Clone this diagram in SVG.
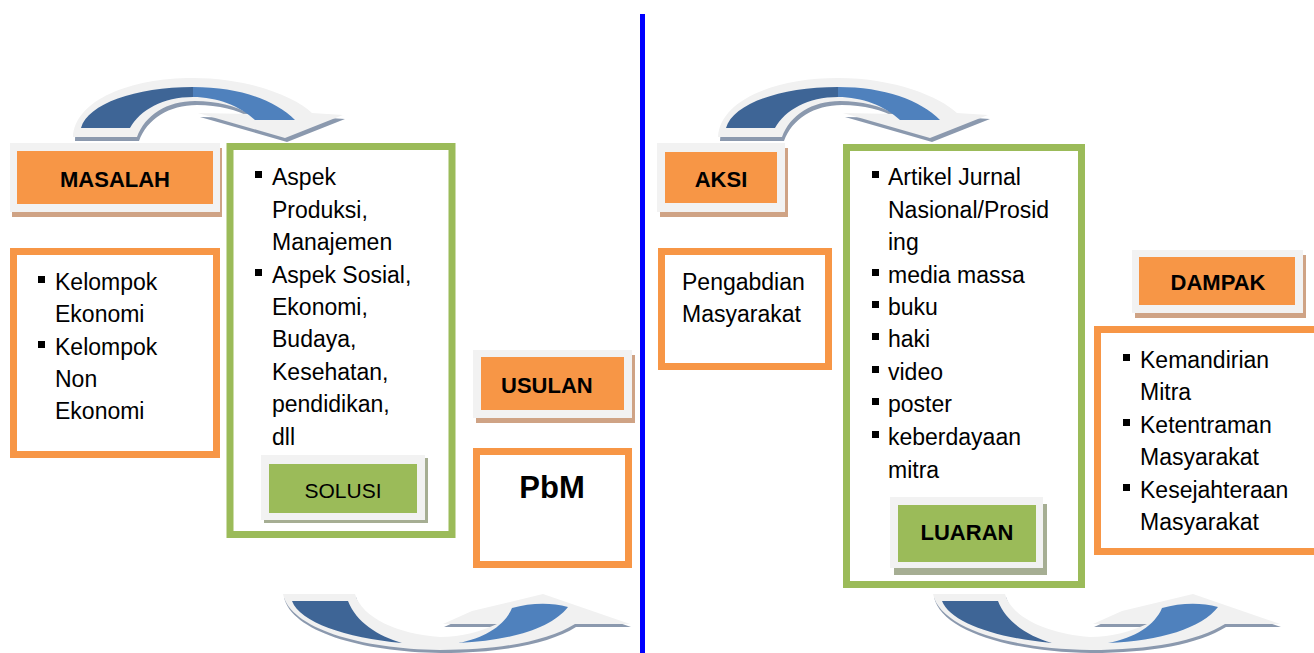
<svg xmlns="http://www.w3.org/2000/svg" xmlns:xlink="http://www.w3.org/1999/xlink" width="1314" height="653" viewBox="0 0 1314 653">
<style>
.t{font-family:"Liberation Sans",Arial,sans-serif;font-size:23px;fill:#000}
.lb{font-family:"Liberation Sans",Arial,sans-serif;font-size:22px;font-weight:bold;fill:#000;text-anchor:middle}
.lr{font-family:"Liberation Sans",Arial,sans-serif;font-size:21px;fill:#000;text-anchor:middle}
.ob{fill:#fff;stroke:#F79646;stroke-width:7}
.gb{fill:#fff;stroke:#9BBB59;stroke-width:7}
.pad{fill:#F2F2F2}
.sho{fill:#CFA385}
.shg{fill:#A6AE93}
.or{fill:#F79646}
.gr{fill:#9BBB59}
.ash{fill:#8B99AE}
.agr{fill:#F1F1F1}
.dk{fill:#3E6596}
.lt{fill:#4F81BD}
.bul{fill:#000}
</style>
<defs>
<g id="arrowTop">
<path class="ash" transform="translate(2,4)" d="M718,137 C720,100 775,78 838,78 C895,78 940,97 957,113 L988,115 L930,138 L843,113 L895,114 C880,106 862,101 840,101 C812,101 790,115 782,137 Z"/>
<path class="agr" d="M718,137 C720,100 775,78 838,78 C895,78 940,97 957,113 L988,115 L930,138 L843,113 L895,114 C880,106 862,101 840,101 C812,101 790,115 782,137 Z"/>
<path class="dk" d="M726,128 C733,104 780,87 838,87 L838,97 C808,97 785,110 775,128 Z"/>
<path class="lt" d="M838,87 C885,87 920,100 940,120 L900,120 C885,106 862,97 838,97 Z"/>
</g>
<g id="arrowBottom">
<path class="ash" transform="translate(1,3)" d="M283,594 L355,594 C362,618 398,634 440,637 C462,637 482,631 497,624 L443,624 L472,611 L543,594 L630,624 L575,624 C548,641 500,650 440,650 C360,649 290,628 283,594 Z"/>
<path class="agr" d="M283,594 L355,594 C362,618 398,634 440,637 C462,637 482,631 497,624 L443,624 L472,611 L543,594 L630,624 L575,624 C548,641 500,650 440,650 C360,649 290,628 283,594 Z"/>
<path class="dk" d="M292,601 L348,601 C356,622 378,636 402,643 C345,638 300,622 292,601 Z"/>
<path class="lt" d="M458,643 C485,638 505,625 512,608 C530,603 550,602 568,607 C552,628 510,641 458,643 Z"/>
</g>
</defs>

<rect id="divider" x="640" y="14" width="5" height="639" fill="#0000FF"/>

<g id="connectors">
<use xlink:href="#arrowTop" transform="translate(-645,0)"/>
<use xlink:href="#arrowTop"/>
<use xlink:href="#arrowBottom"/>
<use xlink:href="#arrowBottom" transform="translate(650,0)"/>
</g>

<g id="masalah">
<rect class="sho" x="12" y="148" width="210" height="69"/>
<rect class="pad" x="10" y="143" width="210" height="69"/>
<rect class="or" x="17" y="151" width="196" height="53"/>
<text class="lb" x="115" y="187">MASALAH</text>
</g>

<g id="kelompok">
<rect class="ob" x="13.5" y="251.5" width="203" height="203"/>
<rect class="bul" x="38" y="276" width="7" height="7"/>
<rect class="bul" x="38" y="341" width="7" height="7"/>
<text class="t"><tspan x="55" y="290">Kelompok</tspan><tspan x="55" y="322">Ekonomi</tspan><tspan x="55" y="355">Kelompok</tspan><tspan x="55" y="387">Non</tspan><tspan x="55" y="419">Ekonomi</tspan></text>
</g>

<g id="solusi-box">
<rect class="gb" x="230" y="146.5" width="222" height="388"/>
<rect class="bul" x="255" y="171" width="7" height="7"/>
<rect class="bul" x="255" y="269" width="7" height="7"/>
<text class="t"><tspan x="272" y="185">Aspek</tspan><tspan x="272" y="218">Produksi,</tspan><tspan x="272" y="250">Manajemen</tspan><tspan x="272" y="283">Aspek Sosial,</tspan><tspan x="272" y="315">Ekonomi,</tspan><tspan x="272" y="347">Budaya,</tspan><tspan x="272" y="380">Kesehatan,</tspan><tspan x="272" y="412">pendidikan,</tspan><tspan x="272" y="445">dll</tspan></text>
</g>

<g id="solusi">
<rect class="shg" x="264" y="458" width="164" height="65"/>
<rect class="pad" x="261" y="455" width="164" height="65"/>
<rect class="gr" x="269" y="464" width="148" height="49"/>
<text class="lr" x="343" y="498">SOLUSI</text>
</g>

<g id="usulan">
<rect class="sho" x="476" y="355" width="159" height="68"/>
<rect class="pad" x="473" y="350" width="159" height="68"/>
<rect class="or" x="481" y="357" width="143" height="53"/>
<text class="lb" x="501" y="393" style="text-anchor:start">USULAN</text>
</g>

<g id="pbm">
<rect class="ob" x="476.5" y="451.5" width="152" height="113"/>
<text class="lb" x="552" y="498" style="font-size:31px">PbM</text>
</g>

<g id="aksi">
<rect class="sho" x="660" y="148" width="128" height="69"/>
<rect class="pad" x="657" y="143" width="128" height="69"/>
<rect class="or" x="665" y="152" width="112" height="51"/>
<text class="lb" x="721" y="187">AKSI</text>
</g>

<g id="pengabdian">
<rect class="ob" x="661.5" y="251.5" width="167" height="115"/>
<text class="t"><tspan x="682" y="290">Pengabdian</tspan><tspan x="682" y="322">Masyarakat</tspan></text>
</g>

<g id="luaran-box">
<rect class="gb" x="846.5" y="147.5" width="235" height="437"/>
<rect class="bul" x="872" y="171" width="7" height="7"/>
<rect class="bul" x="872" y="269" width="7" height="7"/>
<rect class="bul" x="872" y="301" width="7" height="7"/>
<rect class="bul" x="872" y="333" width="7" height="7"/>
<rect class="bul" x="872" y="366" width="7" height="7"/>
<rect class="bul" x="872" y="398" width="7" height="7"/>
<rect class="bul" x="872" y="431" width="7" height="7"/>
<text class="t"><tspan x="888" y="185">Artikel Jurnal</tspan><tspan x="888" y="218">Nasional/Prosid</tspan><tspan x="888" y="250">ing</tspan><tspan x="888" y="283">media massa</tspan><tspan x="888" y="315">buku</tspan><tspan x="888" y="347">haki</tspan><tspan x="888" y="380">video</tspan><tspan x="888" y="412">poster</tspan><tspan x="888" y="445">keberdayaan</tspan><tspan x="888" y="478">mitra</tspan></text>
</g>

<g id="luaran">
<rect class="shg" x="894" y="504" width="153" height="71"/>
<rect class="pad" x="890" y="497" width="153" height="71"/>
<rect class="gr" x="898" y="505" width="138" height="57"/>
<text class="lb" x="967" y="540">LUARAN</text>
</g>

<g id="dampak">
<rect class="sho" x="1135" y="255" width="171" height="63"/>
<rect class="pad" x="1132" y="250" width="171" height="63"/>
<rect class="or" x="1139" y="257" width="156" height="48"/>
<text class="lb" x="1218" y="290">DAMPAK</text>
</g>

<g id="dampak-list">
<rect class="ob" x="1097.5" y="329.5" width="230" height="222"/>
<rect class="bul" x="1123" y="354" width="7" height="7"/>
<rect class="bul" x="1123" y="419" width="7" height="7"/>
<rect class="bul" x="1123" y="484" width="7" height="7"/>
<text class="t"><tspan x="1140" y="368">Kemandirian</tspan><tspan x="1140" y="400">Mitra</tspan><tspan x="1140" y="433">Ketentraman</tspan><tspan x="1140" y="465">Masyarakat</tspan><tspan x="1140" y="498">Kesejahteraan</tspan><tspan x="1140" y="530">Masyarakat</tspan></text>
</g>
</svg>
